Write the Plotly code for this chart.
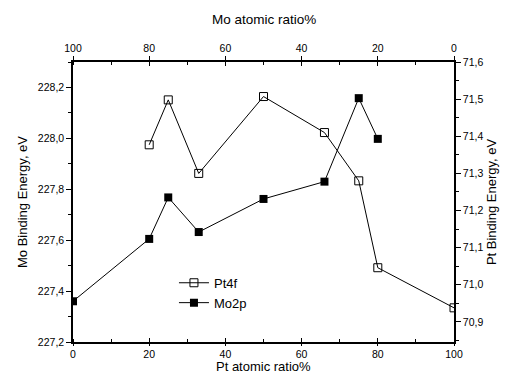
import plotly.graph_objects as go

# Pt4f (open squares) - Pt binding energy, right axis
pt_ratio_pt4f = [20, 25, 33, 50, 66, 75, 80, 100]
pt4f_be = [71.377, 71.498, 71.30, 71.507, 71.41, 71.28, 71.046, 70.938]

# Mo2p (filled squares) - Mo binding energy, left axis
pt_ratio_mo2p = [0, 20, 25, 33, 50, 66, 75, 80]
mo2p_be = [227.36, 227.605, 227.768, 227.632, 227.762, 227.83, 228.158, 227.998]

bottom_ticks = [0, 20, 40, 60, 80, 100]
top_ticks = [100, 80, 60, 40, 20, 0]

FONT = "Liberation Sans, Arial, sans-serif"

fig = go.Figure()
fig.add_trace(go.Scatter(
    x=pt_ratio_pt4f, y=pt4f_be, name="Pt4f", mode="lines+markers",
    xaxis="x", yaxis="y2",
    line=dict(color="black", width=1),
    marker=dict(symbol="square-open", size=8, color="black", line=dict(width=1)),
))
fig.add_trace(go.Scatter(
    x=pt_ratio_mo2p, y=mo2p_be, name="Mo2p", mode="lines+markers",
    xaxis="x", yaxis="y",
    line=dict(color="black", width=1),
    marker=dict(symbol="square", size=8, color="black"),
))
# invisible helper traces so the extra x axes are drawn
for ax in ["x2", "x3", "x4"]:
    fig.add_trace(go.Scatter(x=[None], y=[None], xaxis=ax, yaxis="y",
                             showlegend=False, hoverinfo="skip", mode="markers"))

axis_common = dict(showgrid=False, zeroline=False, color="black",
                   tickfont=dict(size=10.5, color="black", family=FONT))

fig.update_layout(
    width=505, height=374,
    margin=dict(l=73, r=51, t=62, b=32),
    plot_bgcolor="white", paper_bgcolor="white",
    separators=",.",
    font=dict(family=FONT, color="black"),
    showlegend=True,
    legend=dict(x=0.265, y=0.265, xanchor="left", yanchor="top",
                bgcolor="rgba(0,0,0,0)", font=dict(size=13, family=FONT),
                itemwidth=30, tracegroupgap=0),
    xaxis=dict(**axis_common, range=[0, 100], tickvals=bottom_ticks,
               ticks="outside", ticklen=2, tickwidth=1,
               minor=dict(dtick=10, tick0=0, ticks="inside", ticklen=3, tickwidth=1),
               showline=True, linewidth=1.5, linecolor="black",
               automargin=False),
    xaxis2=dict(**axis_common, overlaying="x", side="top", anchor="y",
                range=[100, 0], tickvals=top_ticks,
                ticks="outside", ticklen=4, tickwidth=1,
                minor=dict(dtick=10, tick0=0, ticks="inside", ticklen=3, tickwidth=1),
                showline=True, linewidth=1.5, linecolor="black",
                automargin=False),
    xaxis3=dict(overlaying="x", side="bottom", anchor="y", range=[0, 100],
                tickvals=bottom_ticks, ticks="inside", ticklen=4, tickwidth=1,
                tickcolor="black", showticklabels=False, showline=False,
                showgrid=False, zeroline=False),
    xaxis4=dict(overlaying="x", side="top", anchor="y", range=[100, 0],
                tickvals=top_ticks, ticks="inside", ticklen=4, tickwidth=1,
                tickcolor="black", showticklabels=False, showline=False,
                showgrid=False, zeroline=False),
    yaxis=dict(**axis_common, range=[227.2, 228.3], tick0=227.2, dtick=0.2,
               tickformat=".1f", ticks="outside", ticklen=5, tickwidth=1,
               minor=dict(dtick=0.1, tick0=227.2, ticks="outside", ticklen=3, tickwidth=1),
               showline=True, linewidth=1.5, linecolor="black",
               title=dict(text="Mo Binding Energy, eV", font=dict(size=13), standoff=7),
               automargin=False),
    yaxis2=dict(**axis_common, overlaying="y", side="right", anchor="x",
                range=[70.846, 71.6], tick0=70.9, dtick=0.1,
                tickformat=".1f", ticks="outside", ticklen=5, tickwidth=1,
                minor=dict(dtick=0.05, tick0=70.9, ticks="outside", ticklen=3, tickwidth=1),
                showline=True, linewidth=1.5, linecolor="black",
                title=dict(text="Pt Binding Energy, eV", font=dict(size=13), standoff=4),
                automargin=False),
    annotations=[
        dict(text="Mo atomic ratio%", xref="paper", yref="paper",
             x=0.5, y=1 + (62 - 19) / 280, xanchor="center", yanchor="middle",
             showarrow=False, font=dict(size=13.5, family=FONT, color="black")),
        dict(text="Pt atomic ratio%", xref="paper", yref="paper",
             x=0.5, y=-(366 - 342) / 280, xanchor="center", yanchor="middle",
             showarrow=False, font=dict(size=13, family=FONT, color="black")),
    ],
)

fig.write_html("out.html", config={"displayModeBar": False},
               post_script="document.body.style.margin='0';")
